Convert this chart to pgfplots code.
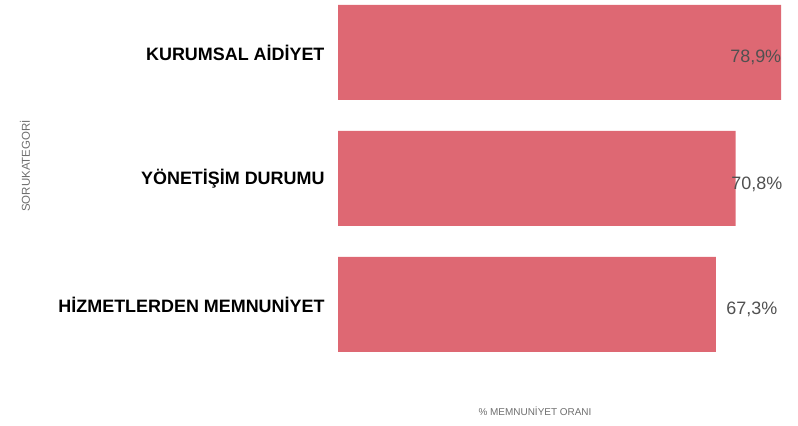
\documentclass[border=0pt]{standalone}
\usepackage{pgfplots}
\pgfplotsset{compat=1.18}
\usepackage{fontspec}
\setmainfont{Liberation Sans}
\definecolor{barred}{HTML}{DE6873}
\definecolor{valgray}{HTML}{505050}
\definecolor{titlegray}{HTML}{6E6E6E}
\begin{document}
\begin{tikzpicture}
\path[use as bounding box] (0,0) rectangle (798bp,426bp);
\begin{axis}[
    at={(338bp,58.5bp)}, anchor=south west,
    scale only axis,
    width=452bp, height=362.5bp,
    xmin=0, xmax=80.5,
    ymin=0.5, ymax=3.377,
    axis line style={draw=none},
    tick style={draw=none},
    xtick=\empty,
    ytick={1,2,3},
    yticklabels={HİZMETLERDEN MEMNUNİYET, YÖNETİŞİM DURUMU, KURUMSAL AİDİYET},
    yticklabel style={anchor=east, xshift=-10bp, font=\fontsize{18}{21}\selectfont\bfseries, text=black},
    clip=false,
]
\addplot[xbar, bar width=95bp, fill=barred, draw=none] coordinates {
    (67.3,1) (70.8,2) (78.9,3)
};
\addplot[draw=none, mark=none, nodes near coords, point meta=explicit symbolic,
    nodes near coords style={anchor=center, inner sep=0pt, text=valgray,
        font=\fontsize{18}{21}\selectfont}] coordinates {
    (73.7,0.964) [67,3\%]
    (74.6,1.956) [70,8\%]
    (74.4,2.964) [78,9\%]
};
\end{axis}
\node[text=titlegray, font=\fontsize{10}{12}\selectfont] at (535bp,15bp) {\% MEMNUNİYET ORANI};
\node[text=titlegray, rotate=90, font=\fontsize{11.5}{13}\selectfont] at (25bp,260bp) {SORUKATEGORİ};
\end{tikzpicture}
\end{document}
